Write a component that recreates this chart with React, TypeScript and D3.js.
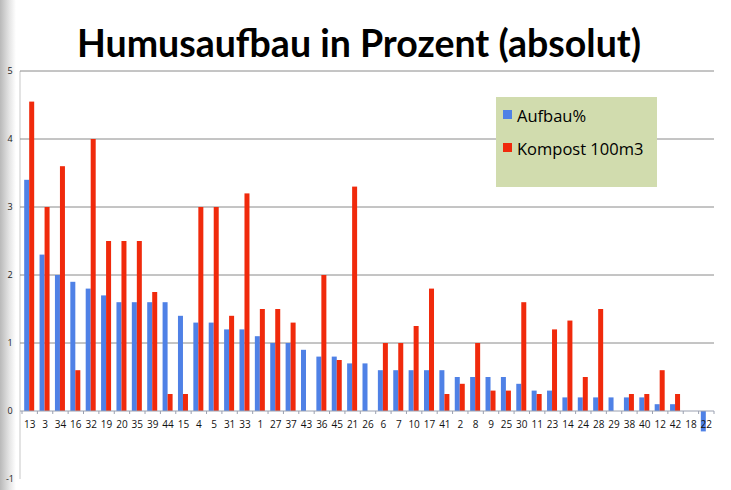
import React from "react";
import * as d3 from "d3";

const categories = ["13","3","34","16","32","19","20","35","39","44","15","4","5","31","33","1","27","37","43","36","45","21","26","6","7","10","17","41","2","8","9","25","30","11","23","14","24","28","29","38","40","12","42","18","22"];
const aufbau = [3.4,2.3,2.0,1.9,1.8,1.7,1.6,1.6,1.6,1.6,1.4,1.3,1.3,1.2,1.2,1.1,1.0,1.0,0.9,0.8,0.8,0.7,0.7,0.6,0.6,0.6,0.6,0.6,0.5,0.5,0.5,0.5,0.4,0.3,0.3,0.2,0.2,0.2,0.2,0.2,0.2,0.1,0.1,0,-0.3];
const kompost = [4.55,3.0,3.6,0.6,4.0,2.5,2.5,2.5,1.75,0.25,0.25,3.0,3.0,1.4,3.2,1.5,1.5,1.3,0,2.0,0.75,3.3,0,1.0,1.0,1.25,1.8,0.25,0.4,1.0,0.3,0.3,1.6,0.25,1.2,1.33,0.5,1.5,0,0.25,0.25,0.6,0.25,0,0];
const yTicks = [-1,0,1,2,3,4,5];
const seriesNames = ["Aufbau%", "Kompost 100m3"];
const colors = ["#4f81e6", "#f02a0c"];

export default function App() {
  const W = 731, H = 490;
  const left = 22, right = 714;
  const y = d3.scaleLinear().domain([-1, 5]).range([479, 71]);
  const x = d3.scaleBand<string>().domain(categories).range([left, right]).paddingInner(0).paddingOuter(0);
  const bw = x.bandwidth();
  const barW = 5;
  return (
    <svg width={W} height={H} style={{ position: "absolute", left: 0, top: 0, background: "#fff" }}>
      <defs>
        <linearGradient id="edge" x1="0" x2="1" y1="0" y2="0">
          <stop offset="0" stopColor="#b9b9b9" />
          <stop offset="0.6" stopColor="#e6e6e6" />
          <stop offset="1" stopColor="#ffffff" />
        </linearGradient>
      </defs>
      <rect x={0} y={0} width={16} height={H} fill="url(#edge)" />
      <text x={359} y={57} textAnchor="middle" fontFamily="Lato, 'Open Sans', sans-serif" fontWeight="bold" fontSize={37.5} fill="#000">Humusaufbau in Prozent (absolut)</text>
      <line x1={left - 2} x2={left - 2} y1={y(5)} y2={y(-1)} stroke="#c8c8c8" />
      {yTicks.filter(t => t > 0).map(t => (
        <line key={t} x1={left - 2} x2={right} y1={y(t)} y2={y(t)} stroke="#8a8a8a" strokeWidth={1} />
      ))}
      {yTicks.map(t => (
        <text key={"l" + t} x={10} y={y(t) + 3} textAnchor="middle" fontFamily="'Open Sans', sans-serif" fontSize={9} fill="#222">{t}</text>
      ))}
      {categories.map((c, i) => {
        const bx = x(c)! + bw / 2;
        const a = aufbau[i], k = kompost[i];
        return (
          <g key={c}>
            <rect x={bx - barW - 0.5} width={barW} y={Math.min(y(a), y(0))} height={Math.abs(y(a) - y(0))} fill={colors[0]} />
            <rect x={bx - 0.5} width={barW} y={Math.min(y(k), y(0))} height={Math.abs(y(k) - y(0))} fill={colors[1]} />
          </g>
        );
      })}
      <line x1={left - 2} x2={right} y1={y(0)} y2={y(0)} stroke="#9aa0b0" strokeWidth={1} />
      {categories.map((c, i) => (
        <line key={"t" + i} x1={x(c)!} x2={x(c)!} y1={y(0)} y2={y(0) + 3} stroke="#9aa0b0" />
      ))}
      <line x1={right} x2={right} y1={y(0)} y2={y(0) + 3} stroke="#9aa0b0" />
      {categories.map(c => (
        <text key={"c" + c} x={x(c)! + bw / 2} y={y(0) + 17} textAnchor="middle" fontFamily="'Open Sans', sans-serif" fontSize={10} fill="#111">{c}</text>
      ))}
      <g>
        <rect x={496} y={97} width={161} height={90} fill="#d1dcae" />
        {seriesNames.map((n, i) => (
          <g key={n}>
            <rect x={503} y={110 + i * 33} width={9} height={9} fill={colors[i]} />
            <text x={517} y={122 + i * 33} fontFamily="'Open Sans', sans-serif" fontSize={16.5} fill="#000">{n}</text>
          </g>
        ))}
      </g>
    </svg>
  );
}
